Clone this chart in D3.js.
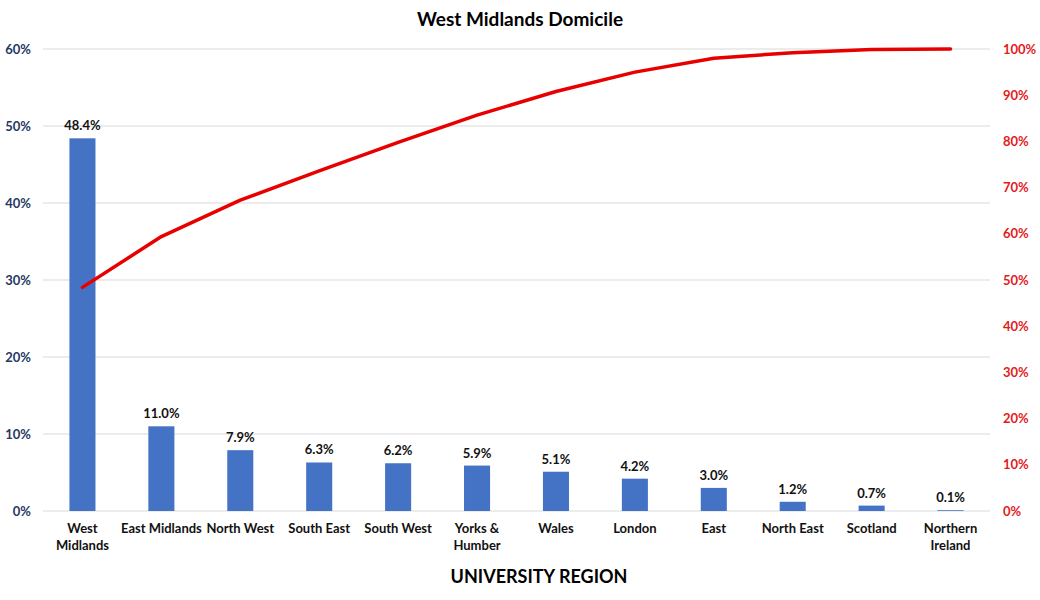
<!DOCTYPE html>
<html>
<head>
<meta charset="utf-8">
<script src="https://cdn.jsdelivr.net/npm/d3@7"></script>
<style>
  body { margin: 0; background: #fff; }
  svg { font-family: Lato, "Open Sans", sans-serif; font-weight: bold; }
</style>
</head>
<body>
<svg id="chart" width="1040" height="600"></svg>
<script>
const regions = [
  ["West", "Midlands"], ["East Midlands"], ["North West"], ["South East"],
  ["South West"], ["Yorks &", "Humber"], ["Wales"], ["London"], ["East"],
  ["North East"], ["Scotland"], ["Northern", "Ireland"]
];
const shares = [48.4, 11.0, 7.9, 6.3, 6.2, 5.9, 5.1, 4.2, 3.0, 1.2, 0.7, 0.1];
const cumulative = [48.4, 59.4, 67.3, 73.6, 79.8, 85.7, 90.8, 95.0, 98.0, 99.2, 99.9, 100.0];
const leftTicks = [0, 10, 20, 30, 40, 50, 60];
const rightTicks = [0, 10, 20, 30, 40, 50, 60, 70, 80, 90, 100];

const svg = d3.select("#chart");
const margin = { left: 43, right: 50, top: 49, bottom: 89 };
const width = 1040, height = 600;

const x = d3.scaleBand()
  .domain(d3.range(regions.length))
  .range([margin.left, width - margin.right])
  .paddingInner(0.67)
  .paddingOuter(0.335);
const yL = d3.scaleLinear().domain([0, 60]).range([height - margin.bottom, margin.top]);
const yR = d3.scaleLinear().domain([0, 100]).range([height - margin.bottom, margin.top]);

// gridlines
svg.append("g")
  .selectAll("line")
  .data(leftTicks)
  .join("line")
    .attr("x1", margin.left)
    .attr("x2", width - margin.right)
    .attr("y1", d => yL(d))
    .attr("y2", d => yL(d))
    .attr("stroke", "#d9d9d9")
    .attr("stroke-width", 1);

// left axis
svg.append("g")
  .selectAll("text")
  .data(leftTicks)
  .join("text")
    .attr("x", 31)
    .attr("y", d => yL(d))
    .attr("dy", "0.35em")
    .attr("text-anchor", "end")
    .attr("font-size", 13)
    .attr("fill", "#1f3864")
    .text(d => d + "%");

// right axis
svg.append("g")
  .selectAll("text")
  .data(rightTicks)
  .join("text")
    .attr("x", 1003)
    .attr("y", d => yR(d))
    .attr("dy", "0.35em")
    .attr("text-anchor", "start")
    .attr("font-size", 13)
    .attr("fill", "#e31a1c")
    .text(d => d + "%");

// bars
svg.append("g")
  .selectAll("rect")
  .data(shares)
  .join("rect")
    .attr("x", (d, i) => x(i))
    .attr("width", x.bandwidth())
    .attr("y", d => yL(d))
    .attr("height", d => yL(0) - yL(d))
    .attr("fill", "#4472c4");

// bar labels
svg.append("g")
  .selectAll("text")
  .data(shares)
  .join("text")
    .attr("x", (d, i) => x(i) + x.bandwidth() / 2)
    .attr("y", d => yL(d) - 8)
    .attr("text-anchor", "middle")
    .attr("font-size", 13)
    .attr("fill", "#111")
    .text(d => d.toFixed(1) + "%");

// category labels
const cat = svg.append("g")
  .selectAll("text")
  .data(regions)
  .join("text")
    .attr("x", (d, i) => x(i) + x.bandwidth() / 2)
    .attr("y", 533)
    .attr("text-anchor", "middle")
    .attr("font-size", 13)
    .attr("fill", "#111");
cat.selectAll("tspan")
  .data(d => d)
  .join("tspan")
    .attr("x", function() { return this.parentNode.getAttribute("x"); })
    .attr("dy", (d, i) => i === 0 ? 0 : 17)
    .text(d => d);

// cumulative line
const line = d3.line()
  .x((d, i) => x(i) + x.bandwidth() / 2)
  .y(d => yR(d));
svg.append("path")
  .datum(cumulative)
  .attr("d", line)
  .attr("fill", "none")
  .attr("stroke", "#e80000")
  .attr("stroke-width", 3.5)
  .attr("stroke-linejoin", "round")
  .attr("stroke-linecap", "round");

// titles
svg.append("text")
  .attr("x", 520)
  .attr("y", 26)
  .attr("text-anchor", "middle")
  .attr("font-size", 19)
  .attr("fill", "#000")
  .text("West Midlands Domicile");

svg.append("text")
  .attr("x", 539)
  .attr("y", 583)
  .attr("text-anchor", "middle")
  .attr("font-size", 18)
  .attr("fill", "#000")
  .text("UNIVERSITY REGION");
</script>
</body>
</html>
